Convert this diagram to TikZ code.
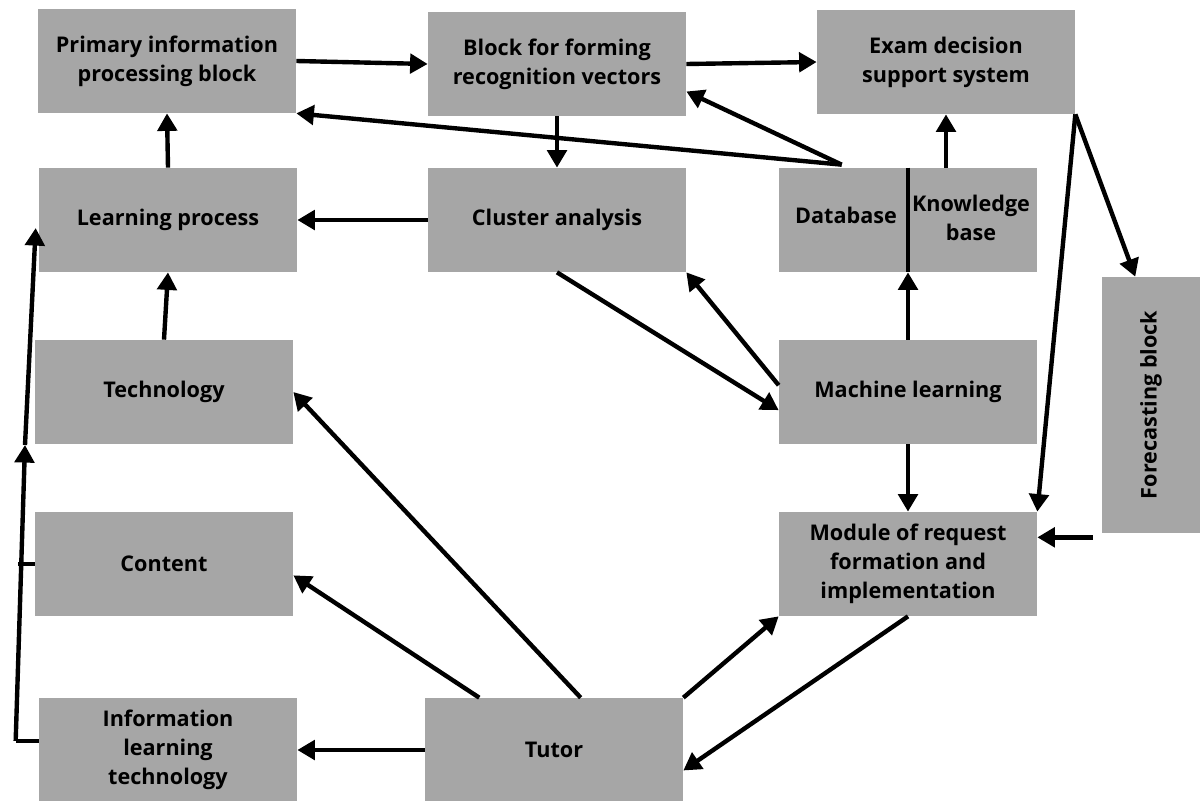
\documentclass[tikz,border=0pt]{standalone}
\usepackage{fontspec}
\setmainfont{Open Sans}
\usetikzlibrary{arrows.meta,calc}
\definecolor{boxGray}{HTML}{A6A6A6}

\begin{document}
\begin{tikzpicture}
[x=0.02cm,y=-0.02cm,%
  boxText/.style={align=center,font=\bfseries\fontsize{12.3}{16.6}\selectfont},%
  grayBox/.style={shape=rectangle,fill=boxGray,minimum width=5.16cm,minimum height=2.08cm,inner sep=0pt,boxText},%
  darkArrow/.style={-{Triangle[length=10pt,width=11pt]},line width=2.5pt},%
  darkLine/.style={line width=2.5pt}]
\useasboundingbox (0,0) rectangle (1200,801);
%% draw the blocks
\foreach \nodename/\x/\y/\txt in {prim/167/61/{Primary information\\processing block},
  vec/557/64/{Block for forming\\recognition vectors}, exam/946/62/{Exam decision\\support system},
  learn/168/220/{Learning process}, clust/557/220/{Cluster analysis},
  tech/164/392/{Technology}, ml/908/392/{Machine learning},
  cont/164/564/{Content}, mod/908/564/{Module of request\\formation and\\implementation},
  ilt/168/750/{Information\\learning\\technology}, tut/554/750/{Tutor}}
{
  \node (\nodename) at (\x,\y) [grayBox] {\txt};
}
\node (dbkb) at (908,220) [grayBox] {};
\node (db) at (846,215) [boxText] {Database};
\node (kb) at (971,218) [boxText] {Knowledge\\base};
\draw[darkLine] (dbkb.north) -- (dbkb.south);
\node (fc) at (1151,405) [grayBox,minimum width=1.96cm,minimum height=5.12cm] {\rotatebox{90}{Forecasting block}};
%% helper points
\coordinate (dbtop) at ($(dbkb.north west)+(63,-3)$);
\coordinate (fcout) at ($(fc.south west)+(-9,4)$);
\coordinate (lbot) at ($(ilt.176)+(-23,0)$);
\coordinate (lmid) at (25,445);
\coordinate (ltop) at ($(learn.west)+(-3,8)$);
%% draw the arrows
\foreach \u/\v in {
  %% horizontal arrows
  prim.east/vec.west, vec.east/exam.west, clust.west/learn.east, tut.west/ilt.east,
  %% vertical arrows
  vec.south/clust.north, learn.north/prim.south, tech.north/learn.south,
  ml.north/dbkb.south, ml.south/mod.north,
  %% slanted arrows
  dbtop/prim.south east, dbtop/vec.-12, clust.south/ml.188, ml.177/clust.south east,
  exam.south east/fc.97, exam.south east/mod.north east, mod.south/tut.-9,
  tut.north east/mod.south west, tut.145/cont.-5, tut.63/tech.east,
  lbot/lmid, lmid/ltop}
{
  \draw[darkArrow] (\u) -- (\v);
}
\draw[darkArrow] (dbkb.north -| exam.south) -- (exam.south);
\draw[darkArrow] (fcout) -- (fcout -| mod.east);
\draw[darkLine] (ilt.176) -- (lbot);
\draw[darkLine] (cont.west) -- ++(-17,0);
\end{tikzpicture}
\end{document}
